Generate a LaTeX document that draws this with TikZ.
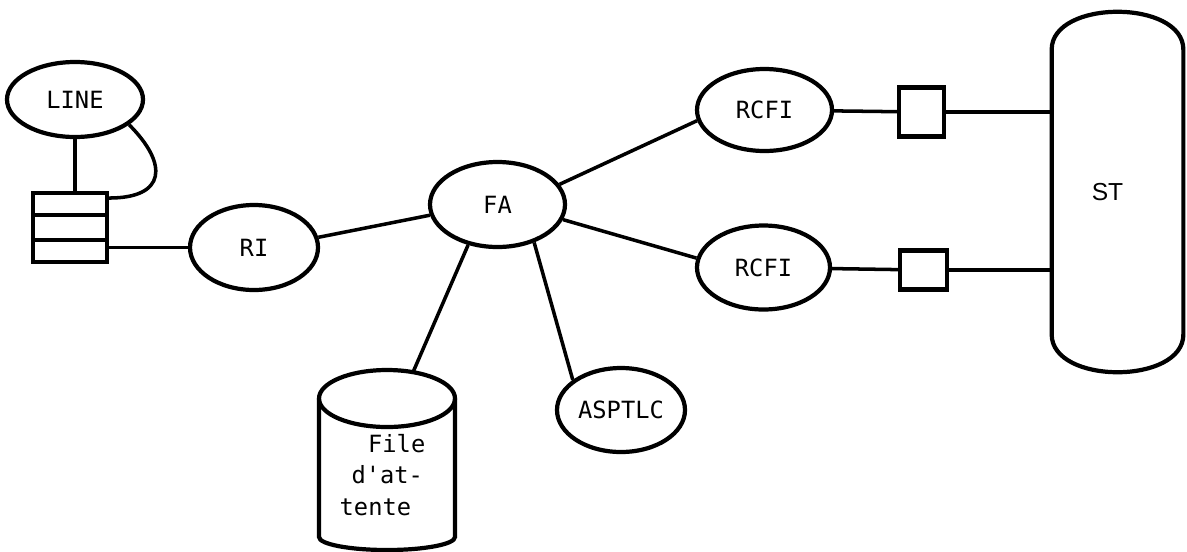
\documentclass[tikz,border=0pt]{standalone}
\usepackage{fontspec}
\setmonofont{DejaVu Sans Mono}
\newfontfamily\stfont{Liberation Sans}
\usepackage{tikz}
\usetikzlibrary{shapes.geometric,calc}

\begin{document}
\begin{tikzpicture}[
    proc/.style={draw,ellipse,line width=2.4pt,inner sep=0pt,
                 minimum width=2.66cm,minimum height=1.68cm,
                 font=\ttfamily\fontsize{13.5}{18}\selectfont},
    buf/.style={draw,line width=2.4pt,inner sep=0pt},
    contour/.style={line width=2.4pt},
    lien/.style={line width=2pt}]
  \useasboundingbox (0,0) rectangle (23.74,-11.02);
  % processus
  \node[proc,minimum width=2.72cm,minimum height=1.50cm] (lin) at (1.50,-1.99) {LINE};
  \node[proc,minimum width=2.56cm,minimum height=1.70cm] (ri) at (5.08,-4.95) {RI};
  \node[proc,minimum width=2.70cm,minimum height=1.70cm] (fa) at (9.95,-4.09) {FA};
  \node[proc,minimum width=2.70cm,minimum height=1.64cm] (rcfia) at (15.29,-2.20) {RCFI};
  \node[proc] (rcfib) at (15.27,-5.35) {RCFI};
  \node[proc,minimum width=2.56cm] (asp) at (12.42,-8.20) {ASPTLC};
  % tampons
  \node[buf,minimum width=1.48cm,minimum height=1.38cm] (queue) at (1.40,-4.55) {};
  \draw[contour] ($(queue.north west)!1/3!(queue.south west)$) -- ($(queue.north east)!1/3!(queue.south east)$);
  \draw[contour] ($(queue.north west)!2/3!(queue.south west)$) -- ($(queue.north east)!2/3!(queue.south east)$);
  \node[buf,minimum width=0.90cm,minimum height=0.98cm] (bufa) at (18.43,-2.24) {};
  \node[buf,minimum width=0.94cm,minimum height=0.78cm] (bufb) at (18.47,-5.40) {};
  % ST
  \node[minimum width=2.62cm,minimum height=7.20cm,
        font=\stfont\fontsize{14}{16}\selectfont] (st) at (22.35,-3.84) {\hspace*{-0.4cm}ST};
  \draw[contour] ($(st.north west)+(0,-0.76)$)
      .. controls ($(st.north west)+(0,0.25)$) and ($(st.north east)+(0,0.25)$) .. ($(st.north east)+(0,-0.76)$)
      -- ($(st.south east)+(0,0.76)$)
      .. controls ($(st.south east)+(0,-0.25)$) and ($(st.south west)+(0,-0.25)$) .. ($(st.south west)+(0,0.76)$)
      -- cycle;
  % file d'attente
  \coordinate (cyltop) at (7.74,-7.97);
  \coordinate (filtop) at ($(cyltop)+(67.5:1.36cm and 0.57cm)$);
  \draw[contour] (cyltop) ellipse [x radius=1.36, y radius=0.57];
  \draw[contour] ($(cyltop)+(-1.36,0)$) -- ++(0,-2.77)
      arc[start angle=180,end angle=360,x radius=1.36,y radius=0.26] -- ++(0,2.77);
  \node[font=\ttfamily\fontsize{13.5}{18}\selectfont,align=left,inner sep=0pt]
    (fil) at (7.65,-9.50) {\hspace*{1.2em}File\\\hspace*{0.5em}d'at-\\tente};
  % liaisons
  \draw[lien] (lin.south) -- (lin.south |- queue.north);
  \draw[lien] (lin.-25) to[out=-45,in=0,looseness=1.9] (queue.37);
  \draw[lien] (ri.west -| queue.east) -- (ri.west);
  \draw[lien] (ri.9) -- (fa.189);
  \draw[lien] (fa.18) -- (rcfia.189);
  \draw[lien] (fa.-13) -- (rcfib.172);
  \draw[lien] (fa.-126) -- (filtop);
  \draw[lien] (fa.-46) -- (asp.148);
  \draw[lien] (rcfia) -- (bufa);
  \draw[lien] (rcfib) -- (bufb);
  \draw[lien] (bufa.east) -- (bufa.east -| st.west);
  \draw[lien] (bufb.east) -- (bufb.east -| st.west);
\end{tikzpicture}
\end{document}
